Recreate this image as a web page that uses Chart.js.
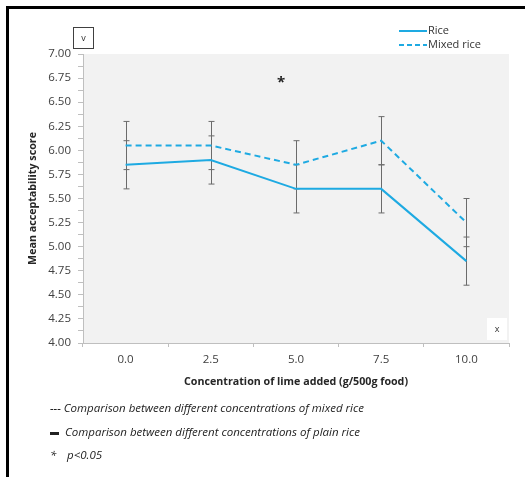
<!DOCTYPE html>
<html>
<head>
<meta charset="utf-8">
<script src="https://cdn.jsdelivr.net/npm/chart.js@4.4.0/dist/chart.umd.min.js"></script>
<style>
  html, body { margin: 0; padding: 0; background: #ffffff; }
  canvas { display: block; }
</style>
</head>
<body>
<canvas id="limeChart" width="525" height="477"></canvas>
<script>
// Data
const categories = ['0.0', '2.5', '5.0', '7.5', '10.0'];
const riceMeans = [5.85, 5.90, 5.60, 5.60, 4.85];
const mixedMeans = [6.05, 6.05, 5.85, 6.10, 5.25];
const riceErrors = [0.25, 0.25, 0.25, 0.25, 0.25];
const mixedErrors = [0.25, 0.25, 0.25, 0.25, 0.25];
const yMin = 4.0;
const yMax = 7.0;
const yStep = 0.25;

const footnotes = [
  'Comparison between different concentrations of mixed rice',
  'Comparison between different concentrations of plain rice',
  'p<0.05'
];

const lineBlue = '#1eaae2';
const tickFont = { family: 'Open Sans', size: 11.5 };

// grey plot background, frame lines, boxes, error bars and notes
const decorations = {
  id: 'decorations',
  beforeDraw(chart) {
    const { ctx, chartArea } = chart;
    ctx.save();
    ctx.fillStyle = '#ffffff';
    ctx.fillRect(0, 0, chart.width, chart.height);
    ctx.fillStyle = '#f2f2f2';
    ctx.fillRect(chartArea.left, chartArea.top, chartArea.right - chartArea.left, chartArea.bottom - chartArea.top);
    // black frame on top and left
    ctx.fillStyle = '#000000';
    ctx.fillRect(6, 6, chart.width - 6, 3);
    ctx.fillRect(6, 6, 3, chart.height - 6);
    ctx.restore();
  },
  beforeDatasetsDraw(chart) {
    const { ctx, scales } = chart;
    const sets = [[riceMeans, riceErrors], [mixedMeans, mixedErrors]];
    ctx.save();
    ctx.strokeStyle = '#6b6b6b';
    ctx.lineWidth = 1;
    sets.forEach(([means, errs]) => {
      means.forEach((m, i) => {
        const x = Math.round(scales.x.getPixelForValue(i)) + 0.5;
        const yTop = scales.y.getPixelForValue(m + errs[i]);
        const yBot = scales.y.getPixelForValue(m - errs[i]);
        ctx.beginPath();
        ctx.moveTo(x, yTop);
        ctx.lineTo(x, yBot);
        ctx.moveTo(x - 3, yTop);
        ctx.lineTo(x + 3, yTop);
        ctx.moveTo(x - 3, yBot);
        ctx.lineTo(x + 3, yBot);
        ctx.stroke();
      });
    });
    ctx.restore();
  },
  afterDraw(chart) {
    const { ctx, chartArea } = chart;
    ctx.save();

    // "v" box above the y axis
    ctx.fillStyle = '#ffffff';
    ctx.strokeStyle = '#404040';
    ctx.lineWidth = 1;
    ctx.fillRect(73.5, 27.5, 20, 21);
    ctx.strokeRect(73.5, 27.5, 20, 21);
    ctx.fillStyle = '#333333';
    ctx.font = '9px "Open Sans"';
    ctx.textAlign = 'center';
    ctx.textBaseline = 'middle';
    ctx.fillText('v', 83.5, 38);

    // "x" box in the lower right corner of the plot
    ctx.fillStyle = '#ffffff';
    ctx.fillRect(chartArea.right - 22, chartArea.bottom - 25, 20, 22);
    ctx.fillStyle = '#333333';
    ctx.fillText('x', chartArea.right - 12, chartArea.bottom - 14);

    // significance mark
    ctx.font = 'bold 15px "Open Sans"';
    ctx.fillStyle = '#222222';
    ctx.fillText('*', 281, 83);

    // legend
    ctx.strokeStyle = lineBlue;
    ctx.lineWidth = 2;
    ctx.beginPath();
    ctx.moveTo(399, 31);
    ctx.lineTo(427, 31);
    ctx.stroke();
    ctx.setLineDash([5, 3]);
    ctx.beginPath();
    ctx.moveTo(399, 45);
    ctx.lineTo(427, 45);
    ctx.stroke();
    ctx.setLineDash([]);
    ctx.font = '11px "Open Sans"';
    ctx.fillStyle = '#333333';
    ctx.textAlign = 'left';
    ctx.fillText(chart.data.datasets[0].label, 428, 31);
    ctx.fillText(chart.data.datasets[1].label, 428, 45);

    // footnotes
    ctx.font = 'italic 11.5px "Open Sans"';
    ctx.fillStyle = '#222222';
    ctx.fillText('--- ' + footnotes[0], 50, 409);
    ctx.fillRect(50, 432, 9, 3);
    ctx.fillText(footnotes[1], 65, 433);
    ctx.fillText('*', 50, 456);
    ctx.fillText(footnotes[2], 67, 456);

    ctx.restore();
  }
};

new Chart(document.getElementById('limeChart').getContext('2d'), {
  type: 'line',
  data: {
    labels: categories,
    datasets: [
      {
        label: 'Rice',
        data: riceMeans,
        borderColor: lineBlue,
        borderWidth: 2,
        pointRadius: 0,
        tension: 0,
        fill: false
      },
      {
        label: 'Mixed rice',
        data: mixedMeans,
        borderColor: lineBlue,
        borderWidth: 2,
        borderDash: [6, 4],
        pointRadius: 0,
        tension: 0,
        fill: false
      }
    ]
  },
  options: {
    responsive: false,
    devicePixelRatio: 1,
    animation: false,
    layout: { padding: { left: 0, top: 54, right: 16, bottom: 86 } },
    plugins: {
      legend: { display: false },
      tooltip: { enabled: false }
    },
    scales: {
      x: {
        offset: true,
        grid: { offset: true, drawOnChartArea: false, tickLength: 4, color: '#bfbfbf' },
        border: { color: '#bfbfbf' },
        ticks: { color: '#404040', font: tickFont, padding: 6 },
        title: {
          display: true,
          text: 'Concentration of lime added (g/500g food)',
          color: '#262626',
          font: { family: 'Open Sans', size: 10.7, weight: 'bold' },
          padding: { top: 4, bottom: 3 }
        },
        afterFit(scale) { scale.height = 48; }
      },
      y: {
        min: yMin,
        max: yMax,
        grid: { drawOnChartArea: false, tickLength: 5, color: '#bfbfbf' },
        border: { color: '#bfbfbf' },
        ticks: {
          stepSize: yStep / 2,
          color: '#404040',
          font: tickFont,
          padding: 7,
          autoSkip: false,
          callback: (v) => (Math.abs(v / yStep - Math.round(v / yStep)) < 1e-6 ? v.toFixed(2) : '')
        },
        title: {
          display: true,
          text: 'Mean acceptability score',
          color: '#262626',
          font: { family: 'Open Sans', size: 10.7, weight: 'bold' },
          padding: { top: 27, bottom: 0 }
        },
        afterFit(scale) { scale.width = 83; }
      }
    }
  },
  plugins: [decorations]
});
</script>
</body>
</html>
